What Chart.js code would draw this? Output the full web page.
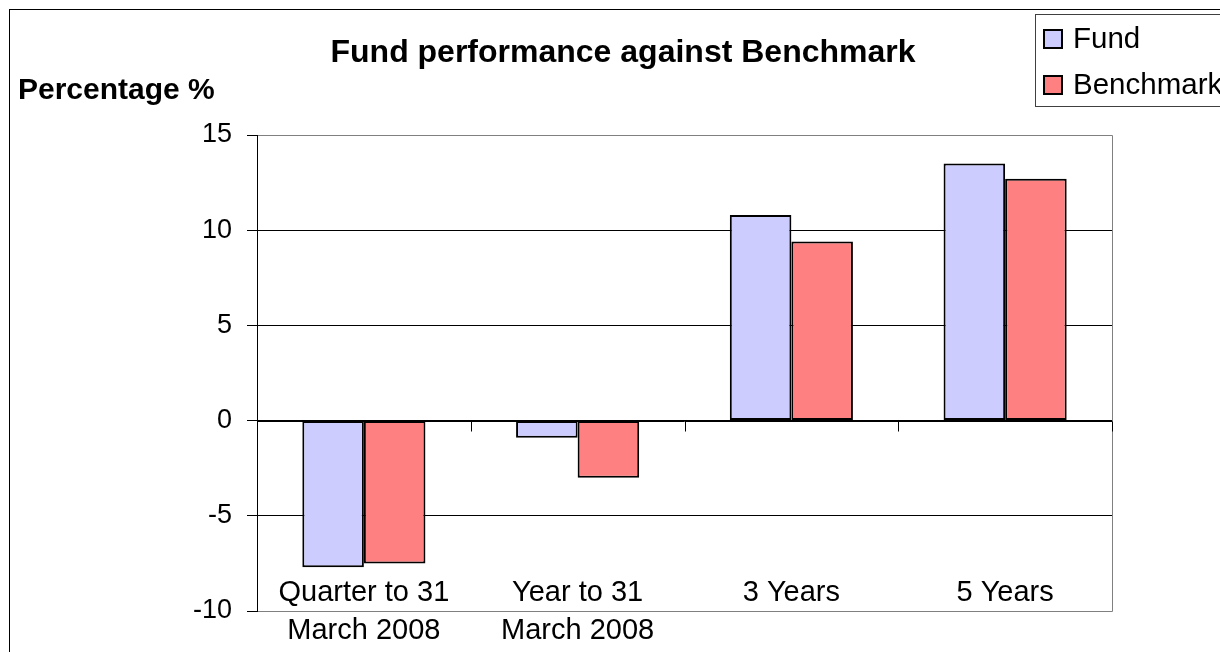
<!DOCTYPE html>
<html>
<head>
<meta charset="utf-8">
<script src="https://cdn.jsdelivr.net/npm/chart.js@4/dist/chart.umd.min.js"></script>
<style>
html,body{margin:0;padding:0;background:#fff;overflow:hidden;}
canvas{display:block;}
</style>
</head>
<body>
<canvas id="c" width="1220" height="652"></canvas>
<script>
const categories = [["Quarter to 31", "March 2008"], ["Year to 31", "March 2008"], ["3 Years"], ["5 Years"]];
const fundValues = [-7.7, -0.9, 10.8, 13.5];
const benchmarkValues = [-7.5, -3.0, 9.4, 12.7];
const seriesNames = ["Fund", "Benchmark"];
const yMin = -10, yMax = 15, yStep = 5;
const chartTitle = "Fund performance against Benchmark";
const yTitle = "Percentage %";

const FONT = "'Liberation Sans', Arial, sans-serif";
const colors = ["#CCCCFF", "#FF8080"];

const decor = {
  id: 'decor',
  afterDraw(chart) {
    const ctx = chart.ctx;
    const a = chart.chartArea;
    const xs = chart.scales.x, ys = chart.scales.y;
    ctx.save();
    // outer border
    ctx.strokeStyle = '#000'; ctx.lineWidth = 1;
    ctx.strokeRect(9.5, 9.5, 1400, 800);
    // plot border (gray) top, right, bottom
    ctx.strokeStyle = '#808080';
    ctx.beginPath();
    ctx.moveTo(a.left + 1, Math.round(a.top) + 0.5); ctx.lineTo(Math.round(a.right) + 0.5, Math.round(a.top) + 0.5);
    ctx.lineTo(Math.round(a.right) + 0.5, Math.round(a.bottom) + 0.5); ctx.lineTo(a.left + 1, Math.round(a.bottom) + 0.5);
    ctx.stroke();
    // zero line ticks at category boundaries
    const y0 = Math.round(ys.getPixelForValue(0)) + 0.5;
    ctx.strokeStyle = '#000';
    ctx.beginPath();
    ctx.moveTo(a.left, y0); ctx.lineTo(a.right, y0);
    const n = categories.length;
    const cw = (a.right - a.left) / n;
    for (let i = 1; i <= n; i++) {
      const x = Math.round(a.left + cw * i) + 0.5;
      ctx.moveTo(x, y0); ctx.lineTo(x, y0 + 10);
    }
    ctx.stroke();
    // x labels
    ctx.fillStyle = '#000';
    ctx.font = '29px ' + FONT;
    ctx.textAlign = 'center'; ctx.textBaseline = 'middle';
    categories.forEach((lab, i) => {
      const x = xs.getPixelForValue(i);
      lab.forEach((line, j) => ctx.fillText(line, x, 593 + j * 38));
    });
    // title
    ctx.font = 'bold 32px ' + FONT;
    ctx.fillText(chartTitle, 623, 53);
    ctx.textAlign = 'left';
    ctx.font = 'bold 30px ' + FONT;
    ctx.fillText(yTitle, 18, 91);
    // legend
    ctx.strokeStyle = '#404040'; ctx.lineWidth = 1;
    ctx.strokeRect(1035.5, 14.5, 400, 92);
    ctx.font = '29.5px ' + FONT;
    chart.data.datasets.forEach((ds, i) => {
      const cy = 39 + i * 46;
      ctx.fillStyle = ds.backgroundColor;
      ctx.fillRect(1044, cy - 9, 18, 18);
      ctx.strokeStyle = '#000'; ctx.lineWidth = 2;
      ctx.strokeRect(1044, cy - 9, 18, 18);
      ctx.fillStyle = '#000';
      ctx.fillText(ds.label, 1073, cy + 1);
    });
    ctx.restore();
  }
};

new Chart(document.getElementById('c'), {
  type: 'bar',
  data: {
    labels: categories,
    datasets: [
      { label: seriesNames[0], data: fundValues, backgroundColor: colors[0], borderColor: '#000', borderWidth: 2, borderSkipped: false },
      { label: seriesNames[1], data: benchmarkValues, backgroundColor: colors[1], borderColor: '#000', borderWidth: 2, borderSkipped: false }
    ]
  },
  options: {
    responsive: false,
    animation: false,
    devicePixelRatio: 1,
    datasets: { bar: { categoryPercentage: 0.576, barPercentage: 1.0 } },
    layout: { padding: { left: 0, right: 108, top: 135, bottom: 0 } },
    plugins: { legend: { display: false }, title: { display: false }, tooltip: { enabled: false } },
    scales: {
      x: {
        ticks: { display: false },
        grid: { display: false, drawTicks: false },
        border: { display: false },
        afterFit(s) { s.height = 41; }
      },
      y: {
        min: yMin, max: yMax,
        ticks: { stepSize: yStep, color: '#000', font: { size: 27, family: FONT }, padding: 15 },
        grid: {
          color: (c) => (c.tick && (c.tick.value === yMax || c.tick.value === yMin)) ? '#808080' : '#000',
          tickColor: '#000',
          tickLength: 10,
          lineWidth: 1
        },
        border: { display: true, color: '#000', width: 1 },
        afterFit(s) { s.width = 257; }
      }
    }
  },
  plugins: [decor]
});
</script>
</body>
</html>
